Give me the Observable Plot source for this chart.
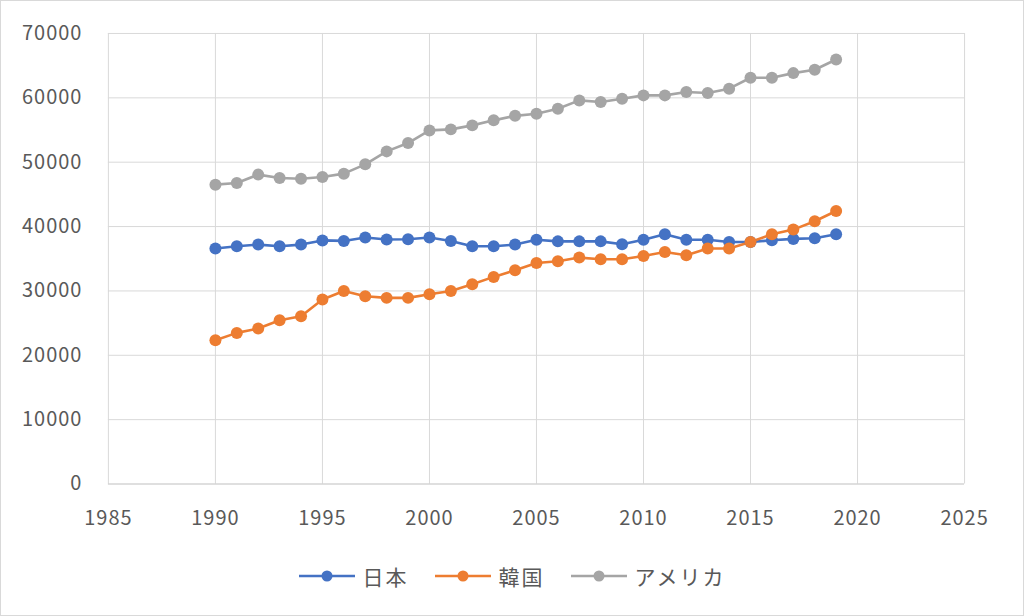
<!DOCTYPE html>
<html><head><meta charset="utf-8">
<script src="https://cdn.jsdelivr.net/npm/d3@7"></script>
<script src="https://cdn.jsdelivr.net/npm/@observablehq/plot@0.6"></script>
<style>
html,body{margin:0;padding:0;background:#fff;}
#frame{position:relative;width:1022px;height:614px;border:1px solid #d9d9d9;overflow:hidden;font-family:"Noto Sans CJK JP","Noto Sans",sans-serif;}
#chart{position:absolute;left:-1px;top:-1px;}
#chart svg text{letter-spacing:1px;}
#legend{position:absolute;left:0;top:560px;width:1022px;height:30px;display:flex;justify-content:center;align-items:center;gap:26px;font-size:21px;letter-spacing:2px;color:#595959;}
.item{display:flex;align-items:center;gap:8px;}
</style></head>
<body>
<div id="frame"><div id="chart"></div><div id="legend"></div></div>
<script>
const years = [1990,1991,1992,1993,1994,1995,1996,1997,1998,1999,2000,2001,2002,2003,2004,2005,2006,2007,2008,2009,2010,2011,2012,2013,2014,2015,2016,2017,2018,2019];
const japan = [36600,36940,37200,36940,37200,37850,37770,38290,37980,38030,38290,37770,36940,36940,37200,37960,37700,37700,37700,37250,37960,38800,37960,37960,37600,37600,37870,38080,38180,38800];
const korea = [22350,23480,24160,25450,26070,28660,30000,29180,28920,28920,29490,30000,31040,32180,33210,34350,34610,35180,34920,34920,35440,36060,35540,36580,36580,37600,38800,39530,40820,42420];
const usa = [46510,46770,48070,47550,47440,47700,48220,49670,51680,52980,54940,55100,55720,56500,57200,57530,58300,59600,59340,59860,60380,60380,60900,60740,61420,63120,63120,63840,64360,65960];
const seriesNames = ["日本","韓国","アメリカ"];
const seriesColors = ["#4472C4","#ED7D31","#A5A5A5"];
const xTicks = [1985,1990,1995,2000,2005,2010,2015,2020,2025];
const yTicks = [0,10000,20000,30000,40000,50000,60000,70000];

const rows = [];
[japan, korea, usa].forEach((vals, i) => vals.forEach((v, j) => rows.push({year: years[j], value: v, series: seriesNames[i]})));

const font = '"Noto Sans CJK JP","Noto Sans",sans-serif';
const chart = Plot.plot({
  width: 1024, height: 552,
  marginLeft: 108, marginRight: 59, marginTop: 33, marginBottom: 68,
  style: {fontFamily: font, fontSize: "20px", color: "#595959", background: "transparent"},
  x: {domain: [1985, 2025], label: null},
  y: {domain: [0, 70000], label: null},
  color: {domain: seriesNames, range: seriesColors},
  marks: [
    Plot.ruleX(xTicks, {stroke: "#d9d9d9", strokeWidth: 1}),
    Plot.ruleY(yTicks.slice(1), {stroke: "#d9d9d9", strokeWidth: 1}),
    Plot.ruleY([0], {stroke: "#bfbfbf", strokeWidth: 1.2}),
    Plot.axisX({ticks: xTicks, tickSize: 0, tickPadding: 27, tickFormat: d => String(d), fontSize: 20, fill: "#595959"}),
    Plot.axisY({ticks: yTicks, tickSize: 0, tickPadding: 26, tickFormat: d => String(d), fontSize: 20, fill: "#595959"}),
    Plot.line(rows, {x: "year", y: "value", z: "series", stroke: "series", strokeWidth: 2.6}),
    Plot.dot(rows, {x: "year", y: "value", fill: "series", r: 6})
  ]
});
document.getElementById("chart").appendChild(chart);

const legend = document.getElementById("legend");
seriesNames.forEach((n, i) => {
  const it = document.createElement("div");
  it.className = "item";
  it.innerHTML = `<svg width="56" height="20"><line x1="0" y1="10" x2="56" y2="10" stroke="${seriesColors[i]}" stroke-width="2.6"/><circle cx="28" cy="10" r="5.5" fill="${seriesColors[i]}"/></svg><span>${n}</span>`;
  legend.appendChild(it);
});
</script>
</body></html>
